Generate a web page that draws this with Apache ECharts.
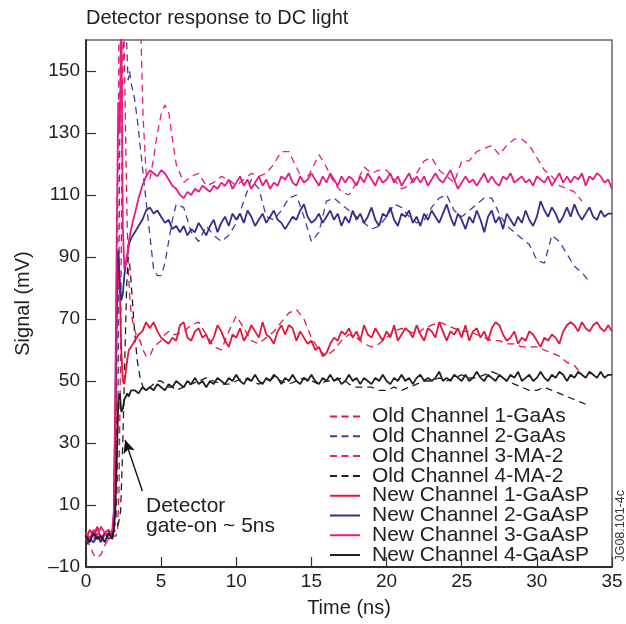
<!DOCTYPE html>
<html>
<head>
<meta charset="utf-8">
<script src="https://cdn.jsdelivr.net/npm/echarts@6/dist/echarts.min.js"></script>
<style>
  html, body { margin: 0; padding: 0; background: #fff; }
  #main { width: 626px; height: 624px; }
</style>
</head>
<body>
<div id="main"></div>
<script>
// time grids (ns): fine steps around the gate-on, then regular steps
const newTimeEarly = [0, 0.25, 0.5, 0.75, 1, 1.25, 1.5, 1.75, 1.85, 1.95, 2.05, 2.15, 2.25, 2.35, 2.45, 2.55, 2.65, 2.75, 2.85, 3.0];
const oldTimeEarly = [0, 0.25, 0.5, 0.75, 1, 1.25, 1.5, 1.75, 2.0, 2.1, 2.2, 2.3, 2.4, 2.5, 2.6, 2.7, 2.8, 2.9, 3.0, 3.2, 3.4, 3.6, 3.8, 4.0, 4.25, 4.5, 4.75, 5.0, 5.25, 5.5, 5.75, 6.0];

const newTime = newTimeEarly.slice();
for (let t = 3.25; t <= 35.001; t += 0.25) newTime.push(+t.toFixed(2));
const oldTime = oldTimeEarly.slice();
for (let t = 6.5; t <= 33.501; t += 0.5) oldTime.push(+t.toFixed(2));

// New channels (mV), on newTime
const newCh1 = [-1, 2, 0, 3, -1, 1, 2, 0, 3, 25, 70, 92, 80, 60, 50, 49, 53, 57, 60, 61,
  63, 65, 66, 69, 67, 69, 66, 64, 63, 62, 64, 63, 68, 69, 64, 63, 66, 67, 64, 65,
  62, 64, 68, 66, 63, 61, 65, 64, 67, 63, 65, 68, 66, 64, 69, 65, 64, 62, 66, 68,
  65, 68, 67, 63, 66, 64, 62, 63, 60, 61, 58, 59, 62, 64, 63, 66, 65, 67, 64, 66,
  63, 68, 65, 64, 67, 65, 63, 66, 64, 68, 63, 65, 67, 66, 64, 68, 65, 63, 67, 66,
  64, 69, 66, 63, 66, 65, 67, 64, 68, 63, 66, 67, 64, 66, 63, 67, 69, 68, 65, 63,
  64, 66, 62, 64, 63, 66, 65, 63, 61, 64, 63, 65, 64, 62, 66, 68, 69, 68, 66, 69,
  67, 66, 68, 69, 67, 66, 68, 66];
const newCh2 = [-3, -1, -2, 0, -2, 1, -1, 0, 5, 40, 85, 92, 82, 76, 78, 84, 88, 90, 94, 96,
  98, 100, 102, 105, 106, 104, 105, 103, 101, 102, 99, 100, 98, 100, 97, 99, 98, 101, 99, 97,
  100, 102, 98, 101, 103, 100, 104, 102, 104, 101, 105, 103, 100, 102, 104, 101, 103, 105, 102, 101,
  99, 101, 103, 102, 105, 107, 103, 101, 102, 104, 101, 103, 105, 102, 104, 100, 103, 101, 105, 102,
  104, 101, 103, 106, 102, 100, 104, 103, 106, 102, 100, 104, 103, 105, 101, 103, 100, 104, 102, 105,
  103, 101, 104, 107, 103, 100, 104, 102, 99, 103, 101, 105, 102, 98, 103, 105, 101, 103, 99, 104,
  102, 100, 103, 101, 105, 102, 100, 103, 108, 105, 103, 106, 104, 101, 103, 106, 103, 107, 104, 102,
  104, 106, 103, 102, 105, 103, 104, 104];
const newCh3 = [1, -1, 2, 0, 3, 1, 0, 2, 8, 45, 100, 140, 130, 168, 100, 86, 88, 91, 95, 99,
  104, 109, 113, 116, 118, 117, 116, 118, 117, 115, 113, 112, 110, 109, 111, 110, 112, 111, 113, 112,
  111, 113, 112, 114, 113, 115, 112, 114, 116, 113, 115, 112, 114, 116, 113, 115, 112, 114, 113, 116,
  115, 117, 114, 113, 116, 114, 115, 117, 115, 113, 116, 114, 117, 115, 113, 116, 114, 116, 115, 113,
  116, 114, 117, 115, 113, 116, 114, 115, 117, 114, 116, 113, 115, 117, 114, 116, 114, 116, 113, 115,
  117, 115, 114, 116, 118, 115, 112, 114, 116, 114, 115, 113, 115, 117, 114, 116, 114, 113, 116, 115,
  117, 114, 115, 116, 114, 115, 113, 116, 115, 114, 116, 113, 115, 117, 114, 116, 114, 116, 115, 117,
  113, 116, 115, 117, 116, 114, 115, 112];
const newCh4 = [0, -2, 1, -1, 0, -2, 1, -1, 2, 8, 25, 44, 46, 40, 41, 44, 45, 46, 45, 47,
  47, 46, 48, 47, 48, 47, 49, 48, 47, 49, 48, 50, 49, 48, 50, 49, 51, 49, 50, 48,
  50, 49, 51, 50, 49, 51, 50, 52, 50, 49, 51, 50, 52, 50, 49, 51, 50, 52, 51, 49,
  51, 50, 52, 50, 49, 51, 50, 52, 50, 49, 51, 50, 52, 50, 51, 49, 50, 52, 50, 51,
  49, 51, 50, 49, 51, 50, 52, 50, 49, 51, 50, 52, 50, 51, 49, 51, 52, 50, 51, 50,
  51, 53, 50, 51, 50, 52, 51, 50, 52, 50, 51, 53, 51, 50, 52, 51, 50, 52, 51, 50,
  52, 51, 53, 50, 51, 52, 50, 51, 53, 51, 50, 52, 51, 53, 52, 50, 52, 51, 53, 52,
  51, 53, 52, 51, 53, 51, 52, 52];

// Old channels (mV), on oldTime
const oldCh1 = [-1, -3, -6, -7, -6, -3, -1, 0, 0, 2, 15, 60, 130, 170, 170, 110, 88, 78, 72, 67, 64, 63, 60, 58, 58, 61, 62, 63, 65, 66, 65, 65,
  66, 68, 69, 65, 61, 60, 66, 71, 67, 63, 62, 64, 66, 69, 72, 73, 70, 64, 60, 58, 60, 63, 65, 64,
  62, 61, 62, 64, 66, 67, 66, 65, 67, 68, 69, 68, 67, 66, 66, 65, 64, 63, 63, 62, 62, 61, 61, 61,
  60, 59, 58, 56, 55, 52, null];
const oldCh2 = [-2, 0, -1, 1, -1, 0, 1, 0, 5, 20, 90, 175, 175, 175, 175, 160, 147, 150, 146, 142, 135, 126, 117, 108, 97, 86, 84, 84, 88, 95, 102, 107,
  106, 98, 95, 100, 97, 95, 97, 101, 108, 115, 112, 103, 102, 105, 109, 110, 103, 95, 98, 108, 109, 107, 105, 103,
  101, 99, 100, 103, 107, 106, 103, 101, 102, 106, 109, 110, 105, 103, 105, 107, 109, 109, 104, 100, 98, 96, 94, 89,
  88, 97, 95, 91, 87, 85, 82];
const oldCh3 = [1, -1, 0, 2, 0, -1, 1, 0, 20, 90, 175, 175, 175, 175, 175, 175, 175, 175, 175, 175, 175, 172, 135, 117, 115, 122, 130, 136, 139, 137, 128, 120,
  114, 116, 117, 113, 114, 116, 115, 113, 115, 117, 116, 117, 120, 124, 124, 119, 114, 118, 123, 119, 114, 111, 110, 114,
  119, 117, 118, 118, 115, 112, 113, 117, 121, 122, 118, 116, 114, 121, 121, 124, 125, 126, 123, 126, 128, 128, 126, 122,
  118, 116, 113, 112, 111, 108, null];
const oldCh4 = [0, -1, 1, 0, -1, 1, 0, 1, 2, 3, 5, 8, 22, 40, 60, 80, 90, 88, 82, 68, 57, 51, 48, 47, 48, 49, 50, 50, 49, 48, 48, 47,
  48, 49, 50, 51, 50, 49, 49, 50, 51, 50, 49, 50, 51, 50, 49, 50, 51, 50, 49, 50, 50, 51, 49, 48,
  48, 48, 47, 47, 48, 47, 48, 49, 50, 50, 51, 50, 51, 52, 51, 51, 52, 53, 52, 50, 49, 48, 47, 47,
  48, 47, 46, 45, 44, 43, 42];

const legendNames = [
  "Old Channel 1-GaAs", "Old Channel 2-GaAs", "Old Channel 3-MA-2", "Old Channel 4-MA-2",
  "New Channel 1-GaAsP", "New Channel 2-GaAsP", "New Channel 3-GaAsP", "New Channel 4-GaAsP"
];
const xTicks = { min: 0, max: 35, step: 5 };
const yTicks = { min: -10, max: 160, step: 20 };

const RED = "#e3173e", PURPLE = "#3a2a8c", PURPLE_OLD = "#4a3c9c", MAGENTA = "#ea1a83", BLACK = "#231f20";
const FONT = "Liberation Sans, Arial, Helvetica, sans-serif";
// legend swatches: three dashes or one solid bar (a hair-thin speck at the end keeps the text gap)
const DASH_ICON = "path://M0,0h7v2h-7z M11.5,0h7v2h-7z M23,0h7v2h-7z M36.95,0h0.05v2h-0.05z";
const SOLID_ICON = "path://M0,0h30v2h-30z M36.95,0h0.05v2h-0.05z";

function pairs(times, vals) {
  return times.map(function (t, i) { return [t, vals[i]]; });
}

function oldSeries(name, vals, color) {
  return {
    name: name, type: "line", data: pairs(oldTime, vals),
    showSymbol: false, symbol: "none", clip: true, z: 2,
    lineStyle: { color: color, width: 1.3, type: [7, 5] },
    itemStyle: { color: color }
  };
}
function newSeries(name, vals, color) {
  return {
    name: name, type: "line", data: pairs(newTime, vals),
    showSymbol: false, symbol: "none", clip: true, z: 3,
    lineStyle: { color: color, width: 1.8 },
    itemStyle: { color: color }
  };
}

const series = [
  oldSeries(legendNames[0], oldCh1, RED),
  oldSeries(legendNames[1], oldCh2, PURPLE_OLD),
  oldSeries(legendNames[2], oldCh3, MAGENTA),
  oldSeries(legendNames[3], oldCh4, BLACK),
  newSeries(legendNames[4], newCh1, RED),
  newSeries(legendNames[5], newCh2, PURPLE),
  newSeries(legendNames[6], newCh3, MAGENTA),
  newSeries(legendNames[7], newCh4, BLACK)
];

// annotation arrow, in data coordinates
series[7].markLine = {
  silent: true,
  symbol: ["none", "arrow"],
  symbolSize: [9, 13],
  label: { show: false },
  lineStyle: { color: "#111", width: 1.4, type: "solid" },
  data: [[{ coord: [3.75, 14.5] }, { coord: [2.6, 31] }]]
};

var myChart = echarts.init(document.getElementById("main"));

var option = {
  animation: false,
  backgroundColor: "#fff",
  textStyle: { fontFamily: FONT },
  title: {
    text: "Detector response to DC light",
    left: 81, top: 3,
    textStyle: { fontFamily: FONT, fontSize: 20, fontWeight: "normal", color: "#222" }
  },
  grid: {
    left: 86, right: 14, top: 40, bottom: 57,
    show: true, borderColor: "#666", borderWidth: 1.5
  },
  legend: {
    data: legendNames.map(function (n, i) {
      return { name: n, icon: i < 4 ? DASH_ICON : SOLID_ICON };
    }),
    orient: "vertical",
    left: 325, top: 401,
    itemWidth: 37, itemHeight: 2, itemGap: -1.2,
    textStyle: { fontFamily: FONT, fontSize: 21, color: "#222" }
  },
  xAxis: {
    type: "value",
    min: xTicks.min, max: xTicks.max, interval: xTicks.step,
    name: "Time (ns)", nameLocation: "middle", nameGap: 31,
    nameTextStyle: { fontFamily: FONT, fontSize: 20, color: "#222" },
    axisLine: { onZero: false, lineStyle: { color: "#111", width: 1.5 } },
    axisTick: { inside: true, length: 10, lineStyle: { color: "#333", width: 1.2 } },
    axisLabel: { fontFamily: FONT, fontSize: 19, color: "#222", margin: 5 },
    splitLine: { show: false }
  },
  yAxis: {
    type: "value",
    min: yTicks.min, max: yTicks.max, interval: yTicks.step,
    name: "Signal (mV)", nameLocation: "middle", nameGap: 53, nameRotate: 90,
    nameTextStyle: { fontFamily: FONT, fontSize: 20, color: "#222" },
    axisLine: { onZero: false, lineStyle: { color: "#111", width: 1.5 } },
    axisTick: { inside: true, length: 10, lineStyle: { color: "#333", width: 1.2 } },
    axisLabel: {
      fontFamily: FONT, fontSize: 19, color: "#222", margin: 6,
      showMaxLabel: false,
      formatter: function (v) { return v < 0 ? "\u2013" + Math.abs(v) : String(v); }
    },
    splitLine: { show: false }
  },
  graphic: [
    {
      type: "text", left: 146, top: 496,
      style: { text: "Detector\ngate-on ~ 5ns", font: "21px " + FONT, fill: "#222", lineHeight: 20 }
    },
    {
      type: "text", left: 614, top: 490, rotation: Math.PI / 2,
      style: { text: "JG08.101-4c", font: "12.5px " + FONT, fill: "#333" }
    }
  ],
  series: series
};

myChart.setOption(option);
</script>
</body>
</html>
